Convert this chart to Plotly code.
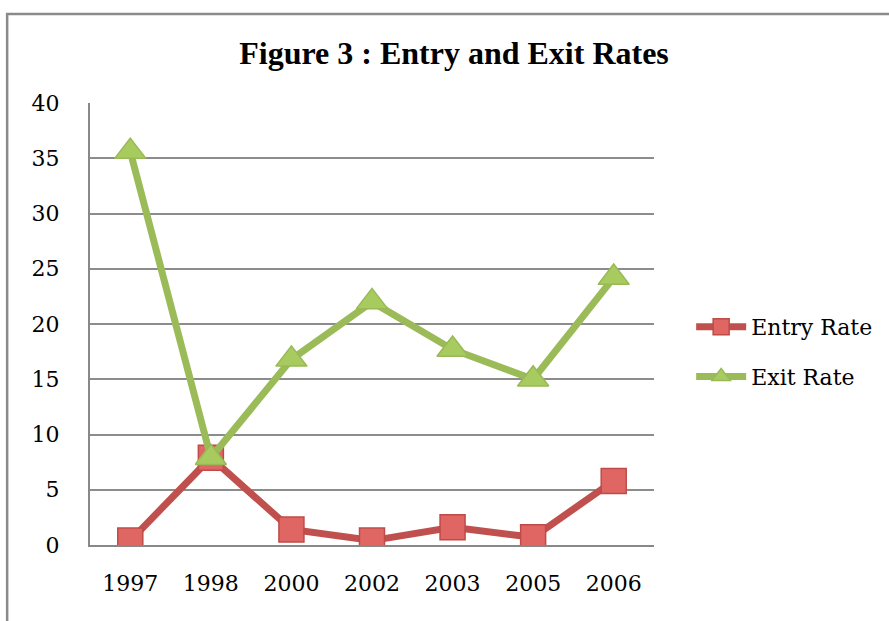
import plotly.graph_objects as go

years = ["1997", "1998", "2000", "2002", "2003", "2005", "2006"]
entry_rate = [0.4, 7.9, 1.4, 0.4, 1.6, 0.7, 5.8]
exit_rate = [35.6, 7.9, 16.8, 22.0, 17.7, 15.0, 24.2]
y_ticks = [0, 5, 10, 15, 20, 25, 30, 35, 40]

RED = "#C0504D"
GREEN = "#9BBB59"
SERIF = "'DejaVu Serif', serif"

fig = go.Figure()
fig.add_trace(go.Scatter(
    x=years, y=entry_rate, name="Entry Rate", mode="lines+markers",
    line=dict(color=RED, width=7),
    marker=dict(symbol="square", size=25, color="#E06663",
                line=dict(color="#BE4B48", width=1.5)),
    legendgroup="a",
))
fig.add_trace(go.Scatter(
    x=years, y=exit_rate, name="Exit Rate", mode="lines+markers",
    line=dict(color=GREEN, width=7),
    marker=dict(symbol="triangle-up", size=27, color="#A8CB60",
                line=dict(color="#98B954", width=1.5)),
    legendgroup="b",
))

fig.update_layout(
    width=889, height=621,
    margin=dict(l=90, r=234, t=103, b=76),
    paper_bgcolor="white", plot_bgcolor="white",
    title=dict(text="<b>Figure 3 : Entry and Exit Rates</b>",
               x=454 / 889, xanchor="center", y=1 - 53 / 621, yanchor="middle",
               font=dict(family="'Liberation Serif', 'Times New Roman', serif", size=32, color="black")),
    font=dict(family=SERIF, color="black", size=22),
    legend=dict(x=1.064, xanchor="left", y=(545 - 352) / 442, yanchor="middle",
                font=dict(size=22, family=SERIF), tracegroupgap=18, itemwidth=50,
                bgcolor="rgba(0,0,0,0)"),
    showlegend=True,
)
fig.update_xaxes(
    type="category", range=[-0.5, 6.5], showgrid=False,
    showline=True, linecolor="#888888", linewidth=2, ticks="",
    ticklabelstandoff=18, tickfont=dict(size=22, family=SERIF),
)
fig.update_yaxes(
    range=[0, 40], tickvals=y_ticks, showgrid=True, gridcolor="#8C8C8C", gridwidth=1.5,
    showline=True, linecolor="#888888", linewidth=2, ticks="", zeroline=False,
    ticklabelstandoff=24, tickfont=dict(size=22, family=SERIF),
)
# outer chart frame (cropped at right and bottom)
fig.add_shape(type="rect", xref="paper", yref="paper",
              x0=(7 - 90) / 565, x1=1.7, y0=-0.3, y1=(545 - 14) / 442,
              line=dict(color="#8A8A8A", width=2.5), layer="below")

fig.write_html("out.html")
